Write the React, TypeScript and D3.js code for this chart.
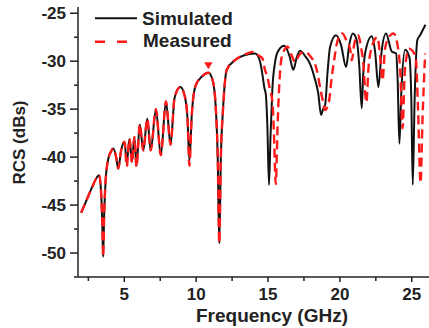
import { useMemo } from "react";
import * as d3 from "d3";

// simulated RCS (GHz, dBs)
const simFreq = [
    2.0, 2.4, 2.8, 3.1, 3.25, 3.38, 3.48, 3.53, 3.6, 3.7, 3.87, 4.05, 4.24, 4.42, 4.58, 4.78,
    5.02, 5.17, 5.36, 5.54, 5.7, 5.85, 6.08, 6.32, 6.6, 6.84, 7.2, 7.54, 7.9, 8.22, 8.5, 8.9,
    9.2, 9.4, 9.53, 9.7, 9.95, 10.4, 10.85, 11.15, 11.35, 11.5, 11.61, 11.72, 11.87, 12.13,
    12.7, 13.3, 14.1, 14.4, 14.56, 14.75, 14.85, 14.95, 15.07, 15.17, 15.3, 15.5, 15.72,
    16.14, 16.5, 16.76, 17.0, 17.23, 17.6, 17.93, 18.25, 18.5, 18.69, 18.83, 18.97, 19.15,
    19.32, 19.73, 20.08, 20.43, 20.65, 20.9, 21.17, 21.35, 21.52, 21.62, 21.75, 22.22,
    22.45, 22.68, 22.9, 23.21, 23.61, 23.91, 24.02, 24.14, 24.28, 24.54, 24.84, 24.97,
    25.07, 25.2, 25.39, 25.58, 25.75, 25.95,
];
const simRcs = [
    -45.8, -44.4, -43.0, -42.1, -41.9, -43.5, -47.5, -50.4, -46.0, -42.5, -40.3, -39.5, -39.1, -39.9, -41.2, -39.3,
    -38.4, -40.6, -38.1, -40.5, -37.9, -40.9, -36.6, -39.3, -36.0, -39.3, -35.0, -39.8, -34.2, -38.7, -33.8, -32.7,
    -33.6, -36.0, -40.4, -35.5, -32.6, -31.6, -31.2, -32.0, -34.5, -40.0, -49.0, -40.0, -35.0, -30.9,
    -29.9, -29.4, -29.2, -29.8, -30.9, -32.8, -33.5, -36.5, -42.9, -38.0, -33.0, -30.0, -28.9,
    -28.4, -29.5, -30.9, -29.6, -28.9, -29.5, -30.3, -31.8, -33.4, -35.6, -35.0, -34.6, -31.0,
    -28.5, -27.3, -28.3, -30.6, -28.3, -27.1, -27.8, -30.5, -34.9, -31.5, -29.2, -27.4,
    -29.0, -32.7, -29.0, -27.1, -29.0, -29.2, -32.0, -38.6, -33.0, -28.8, -29.6, -34.0,
    -42.9, -34.0, -27.8, -27.3, -26.8, -26.2,
];

// measured RCS (GHz, dBs)
const measFreq = [
    2.0, 2.4, 2.8, 3.1, 3.25, 3.38, 3.48, 3.53, 3.6, 3.7, 3.87, 4.05, 4.24, 4.42, 4.58, 4.78,
    5.02, 5.17, 5.36, 5.54, 5.7, 5.85, 6.08, 6.32, 6.6, 6.84, 7.2, 7.54, 7.9, 8.22, 8.5, 8.9,
    9.2, 9.4, 9.53, 9.7, 9.95, 10.4, 10.85, 11.15, 11.35, 11.5, 11.61, 11.72, 11.87, 12.13,
    12.7, 13.4, 14.03, 14.33, 14.61, 14.79, 14.95, 15.14, 15.3, 15.4, 15.54, 15.66, 15.8,
    15.95, 16.35, 16.65, 16.88, 17.15, 17.55, 17.9, 18.39, 18.62, 18.85, 18.97, 19.25,
    19.42, 19.6, 19.85, 20.17, 20.5, 20.71, 20.83, 21.0, 21.27, 21.5, 21.63, 21.84, 22.0,
    22.17, 22.61, 22.8, 22.97, 23.12, 23.3, 23.74, 24.08, 24.2, 24.36, 24.52, 24.81,
    25.27, 25.44, 25.61, 25.75, 25.93,
];
const measRcs = [
    -45.8, -44.4, -43.0, -42.1, -41.9, -43.5, -47.5, -50.4, -46.0, -42.5, -40.3, -39.5, -39.1, -39.9, -41.2, -39.3,
    -38.4, -41.0, -38.1, -40.6, -37.9, -41.0, -36.6, -39.3, -36.0, -39.3, -35.0, -39.8, -34.2, -38.7, -33.8, -32.7,
    -33.6, -36.0, -40.9, -35.5, -32.6, -31.6, -31.2, -32.0, -34.5, -40.0, -49.0, -40.0, -35.0, -30.9,
    -29.9, -29.3, -29.0, -29.4, -29.7, -30.9, -31.6, -33.0, -34.1, -37.0, -42.8, -37.0, -32.0,
    -29.6, -28.5, -29.4, -30.1, -29.4, -29.0, -29.4, -30.9, -32.7, -34.4, -35.1, -34.1,
    -31.8, -29.9, -27.8, -27.1, -28.0, -28.7, -29.9, -28.2, -27.3, -28.8, -30.2, -34.3, -30.5,
    -28.8, -27.5, -29.5, -32.0, -29.0, -27.8, -27.1, -29.0, -31.0, -37.0, -31.0, -28.7,
    -29.5, -35.1, -42.7, -36.0, -29.2,
];

const markerFreq = 10.85;
const markerRcs = -30.35;

const xMajor = [5, 10, 15, 20, 25];
const xMinor = [2.5, 7.5, 12.5, 17.5, 22.5];
const yMajor = [-25, -30, -35, -40, -45, -50];
const yMinor = [-27.5, -32.5, -37.5, -42.5, -47.5, -52.5];

const seriesNames = ["Simulated", "Measured"];

const W = 429;
const H = 328;
const LEFT = 78;
const BOTTOM = 277;
const TOP = 7;
const FONT = "'Liberation Sans', Arial, sans-serif";
const INK = "#222";

export default function App() {
    const x = d3.scaleLinear().domain([1.78, 26.2]).range([LEFT, W]);
    const y = d3.scaleLinear().domain([-52.5, -24.35]).range([BOTTOM, TOP]);

    const paths = useMemo(() => {
        const line = d3
            .line<[number, number]>()
            .x((d) => x(d[0]))
            .y((d) => y(d[1]))
            .curve(d3.curveMonotoneX);
        const sim = simFreq.map((f, i) => [f, simRcs[i]] as [number, number]);
        const meas = measFreq.map((f, i) => [f, measRcs[i]] as [number, number]);
        return { sim: line(sim)!, meas: line(meas)! };
    }, []);

    const marker = d3.symbol().type(d3.symbolTriangle).size(30)()!;

    return (
        <svg width={W} height={H} style={{ position: "absolute", left: 0, top: 0, background: "#fff" }}>
            <path d={paths.sim} fill="none" stroke="#111" strokeWidth={2} strokeLinejoin="round" />
            <path
                d={paths.meas}
                fill="none"
                stroke="#ff1a1a"
                strokeWidth={2.4}
                strokeDasharray="9 5"
                strokeLinejoin="round"
            />
            <path
                d={marker}
                fill="#ff1a1a"
                transform={`translate(${x(markerFreq)}, ${y(markerRcs)}) rotate(180)`}
            />

            {/* axes */}
            <g stroke={INK} strokeWidth={1.5}>
                <line x1={LEFT} x2={LEFT} y1={TOP} y2={BOTTOM} />
                <line x1={LEFT} x2={W} y1={BOTTOM} y2={BOTTOM} />
                {xMajor.map((t) => (
                    <line key={t} x1={x(t)} x2={x(t)} y1={BOTTOM} y2={BOTTOM + 5} />
                ))}
                {xMinor.map((t) => (
                    <line key={t} x1={x(t)} x2={x(t)} y1={BOTTOM} y2={BOTTOM + 4} />
                ))}
                {yMajor.map((t) => (
                    <line key={t} x1={LEFT - 8} x2={LEFT} y1={y(t)} y2={y(t)} />
                ))}
                {yMinor.map((t) => (
                    <line key={t} x1={LEFT - 4} x2={LEFT} y1={y(t)} y2={y(t)} />
                ))}
            </g>
            <g fontFamily={FONT} fontWeight="bold" fontSize={17} fill={INK}>
                {xMajor.map((t) => (
                    <text key={t} x={x(t)} y={300} textAnchor="middle">
                        {t}
                    </text>
                ))}
                {yMajor.map((t) => (
                    <text key={t} x={66} y={y(t) + 6} textAnchor="end">
                        {t}
                    </text>
                ))}
                <text x={272} y={322} textAnchor="middle" fontSize={19}>
                    Frequency (GHz)
                </text>
                <text transform="translate(25, 142.5) rotate(-90)" textAnchor="middle" fontSize={17}>
                    RCS (dBs)
                </text>
            </g>

            {/* legend */}
            <g fontFamily={FONT} fontWeight="bold" fontSize={19} fill={INK}>
                <line x1={95} x2={137} y1={18.3} y2={18.3} stroke="#111" strokeWidth={2} />
                <text x={142} y={25}>
                    {seriesNames[0]}
                </text>
                <line
                    x1={95}
                    x2={131}
                    y1={41.7}
                    y2={41.7}
                    stroke="#ff1a1a"
                    strokeWidth={2.4}
                    strokeDasharray="10 12"
                />
                <text x={143} y={46.5}>
                    {seriesNames[1]}
                </text>
            </g>
        </svg>
    );
}
